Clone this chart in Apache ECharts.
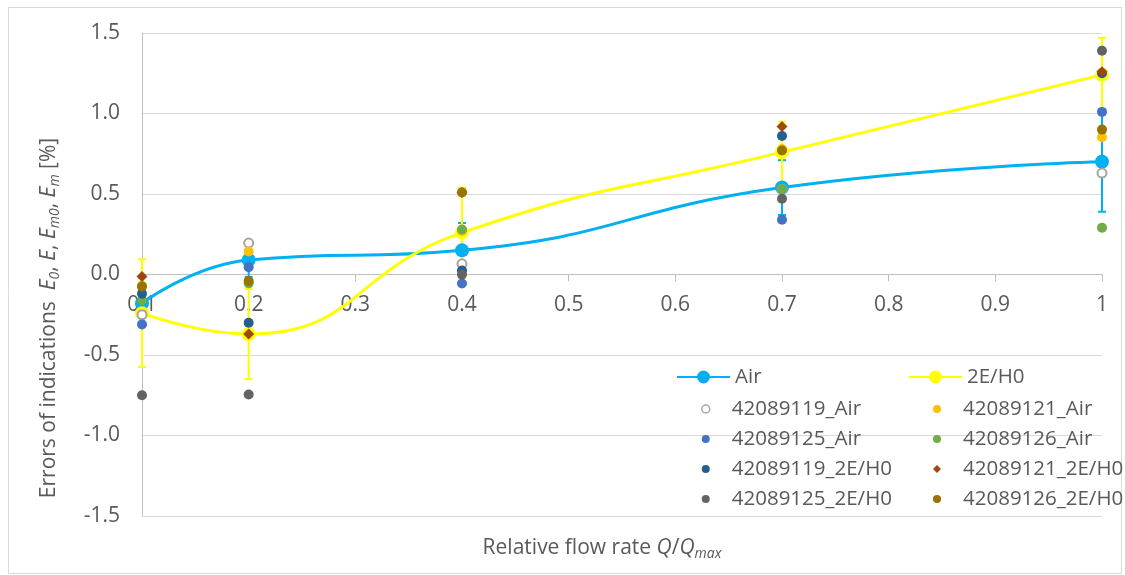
<!DOCTYPE html>
<html>
<head>
<meta charset="utf-8">
<script src="https://cdn.jsdelivr.net/npm/echarts@6/dist/echarts.min.js"></script>
<style>html,body{margin:0;padding:0;background:#fff}#c{width:1125px;height:575px}</style>
</head>
<body>
<div id="c"></div>
<script>
// ---- data ----
var xValues = [0.1, 0.2, 0.4, 0.7, 1.0];
var airMean = [-0.18, 0.09, 0.15, 0.54, 0.70];
var airErr = [0.08, 0.105, 0.17, 0.17, 0.31];
var h0Mean = [-0.24, -0.37, 0.26, 0.76, 1.24];
var h0Err = [0.335, 0.28, 0.28, 0.19, 0.23];

var m19Air = [-0.25, 0.195, 0.066, 0.53, 0.63];
var m21Air = [-0.07, 0.143, 0.27, 0.78, 0.853];
var m25Air = [-0.31, 0.045, -0.056, 0.34, 1.01];
var m26Air = [-0.16, -0.055, 0.28, 0.53, 0.29];
var m19H0 = [-0.12, -0.30, 0.025, 0.86, 1.25];
var m21H0 = [-0.012, -0.37, 0.51, 0.92, 1.26];
var m25H0 = [-0.75, -0.745, 0.0, 0.47, 1.39];
var m26H0 = [-0.075, -0.04, 0.51, 0.77, 0.90];

var yTicks = [-1.5, -1.0, -0.5, 0.0, 0.5, 1.0, 1.5];

var FONT = 'Open Sans';
var TXT = '#595959';
var GRID_TOP = 33, GRID_BOTTOM = 59, H = 575;

function pairs(vals) { return xValues.map(function (x, i) { return [x, vals[i]]; }); }
function triples(vals, errs) { return xValues.map(function (x, i) { return [x, vals[i], errs[i]]; }); }

function errRender(color) {
  return function (params, api) {
    var x = api.value(0), y = api.value(1), e = api.value(2);
    var t = api.coord([x, y + e]), b = api.coord([x, y - e]);
    var h = 4, st = { stroke: color, lineWidth: 2 };
    return { type: 'group', children: [
      { type: 'line', shape: { x1: t[0], y1: t[1], x2: b[0], y2: b[1] }, style: st },
      { type: 'line', shape: { x1: t[0] - h, y1: t[1], x2: t[0] + h, y2: t[1] }, style: st },
      { type: 'line', shape: { x1: b[0] - h, y1: b[1], x2: b[0] + h, y2: b[1] }, style: st }
    ]};
  };
}

function scatter(name, vals, color, symbol, size, hollow) {
  var s = {
    name: name, type: 'scatter', data: pairs(vals), z: 5,
    symbol: symbol || 'circle', symbolSize: size || 10,
    itemStyle: { color: color, opacity: 1 }
  };
  if (hollow) {
    s.itemStyle = { color: '#ffffff', borderColor: color, borderWidth: 2, opacity: 1 };
  }
  return s;
}

var chart = echarts.init(document.getElementById('c'), null, { renderer: 'canvas' });

var legendText = { fontFamily: FONT, fontSize: 20.5, color: TXT, lineHeight: 30 };
var legendTextPad = { fontFamily: FONT, fontSize: 20.5, color: TXT, lineHeight: 30, padding: [0, 0, 0, 17] };

// position of y = 0 inside the grid, to move the x axis there
var plotH = H - GRID_TOP - GRID_BOTTOM;
var zeroY = GRID_TOP + plotH * (yTicks[yTicks.length - 1] - 0) / (yTicks[yTicks.length - 1] - yTicks[0]);
var xAxisOffset = -(H - GRID_BOTTOM - zeroY);

var option = {
  animation: false,
  backgroundColor: '#ffffff',
  textStyle: { fontFamily: FONT },
  grid: { left: 142, right: 23, top: GRID_TOP, bottom: GRID_BOTTOM, containLabel: false },
  xAxis: {
    type: 'value', min: 0.1, max: 1.0, interval: 0.1, position: 'bottom', offset: xAxisOffset,
    axisLine: { show: true, onZero: false, lineStyle: { color: '#bfbfbf', width: 1 } },
    axisTick: { show: true, length: 7, lineStyle: { color: '#bfbfbf' } },
    axisLabel: {
      margin: 20, fontFamily: FONT, fontSize: 21, color: TXT,
      formatter: function (v) { return String(Math.round(v * 10) / 10); }
    },
    splitLine: { show: false }
  },
  yAxis: {
    type: 'value', min: yTicks[0], max: yTicks[yTicks.length - 1], interval: 0.5,
    axisLine: { show: true, onZero: false, lineStyle: { color: '#bfbfbf', width: 1 } },
    axisTick: { show: false },
    axisLabel: {
      margin: 22, fontFamily: FONT, fontSize: 21, color: TXT,
      formatter: function (v) { return v.toFixed(1); }
    },
    splitLine: { show: true, lineStyle: { color: '#d9d9d9', width: 1 } }
  },
  legend: [
    { data: ['Air'], left: 671, top: 357, orient: 'vertical', itemWidth: 53, itemHeight: 16, itemGap: 0, selectedMode: false, textStyle: legendText },
    { data: ['2E/H0'], left: 903, top: 357, orient: 'vertical', itemWidth: 53, itemHeight: 16, itemGap: 0, selectedMode: false, textStyle: legendText },
    { data: [
        { name: '42089119_Air', icon: 'circle', itemStyle: { color: '#ffffff', borderColor: '#A5A5A5', borderWidth: 1.5 } },
        { name: '42089125_Air', icon: 'circle' },
        { name: '42089119_2E/H0', icon: 'circle' },
        { name: '42089125_2E/H0', icon: 'circle' }
      ], left: 696, top: 389, orient: 'vertical', itemWidth: 8, itemHeight: 8, itemGap: 0, selectedMode: false, textStyle: legendTextPad },
    { data: [
        { name: '42089121_Air', icon: 'circle' },
        { name: '42089126_Air', icon: 'circle' },
        { name: '42089121_2E/H0', icon: 'diamond' },
        { name: '42089126_2E/H0', icon: 'circle' }
      ], left: 928, top: 389, orient: 'vertical', itemWidth: 8, itemHeight: 8, itemGap: 0, selectedMode: false, textStyle: legendTextPad }
  ],
  graphic: [
    { type: 'rect', silent: true, z: -10, shape: { x: 8.5, y: 7.5, width: 1113, height: 566 }, style: { fill: 'none', stroke: '#d9d9d9', lineWidth: 1 } },
    { type: 'text', silent: true, x: 49, y: 318, rotation: Math.PI / 2,
      style: {
        text: '{n|Errors of indications  }{i|E}{s|0}{n|, }{i|E}{n|, }{i|E}{s|m0}{n|, }{i|E}{s|m}{n| [%]}',
        align: 'center', verticalAlign: 'middle', fill: TXT,
        rich: {
          n: { fontFamily: FONT, fontSize: 21, fill: TXT },
          i: { fontFamily: FONT, fontSize: 21, fontStyle: 'italic', fill: TXT },
          s: { fontFamily: FONT, fontSize: 14, fontStyle: 'italic', fill: TXT, padding: [12, 0, 0, 0] }
        }
      }
    },
    { type: 'text', silent: true, x: 602, y: 548,
      style: {
        text: '{n|Relative flow rate }{i|Q}{n|/}{i|Q}{s|max}',
        align: 'center', verticalAlign: 'middle', fill: TXT,
        rich: {
          n: { fontFamily: FONT, fontSize: 21, fill: TXT },
          i: { fontFamily: FONT, fontSize: 21, fontStyle: 'italic', fill: TXT },
          s: { fontFamily: FONT, fontSize: 14, fontStyle: 'italic', fill: TXT, padding: [12, 0, 0, 0] }
        }
      }
    }
  ],
  series: [
    { name: 'airErr', type: 'custom', renderItem: errRender('#00B0F0'), data: triples(airMean, airErr), encode: { x: 0, y: 1 }, z: 1, silent: true },
    { name: 'h0Err', type: 'custom', renderItem: errRender('#FFFF00'), data: triples(h0Mean, h0Err), encode: { x: 0, y: 1 }, z: 1, silent: true },
    { name: 'Air', type: 'line', data: pairs(airMean), smooth: 0.5, z: 3,
      symbol: 'circle', symbolSize: 14, showSymbol: true,
      lineStyle: { color: '#00B0F0', width: 3 }, itemStyle: { color: '#00B0F0' } },
    { name: '2E/H0', type: 'line', data: pairs(h0Mean), smooth: 0.5, z: 3,
      symbol: 'circle', symbolSize: 14, showSymbol: true,
      lineStyle: { color: '#FFFF00', width: 3 }, itemStyle: { color: '#FFFF00' } },
    scatter('42089119_Air', m19Air, '#A5A5A5', 'circle', 9, true),
    scatter('42089121_Air', m21Air, '#FFC000'),
    scatter('42089125_Air', m25Air, '#4472C4'),
    scatter('42089126_Air', m26Air, '#70AD47'),
    scatter('42089119_2E/H0', m19H0, '#255E91'),
    scatter('42089121_2E/H0', m21H0, '#9E480E', 'diamond', 11),
    scatter('42089125_2E/H0', m25H0, '#636363'),
    scatter('42089126_2E/H0', m26H0, '#997300')
  ]
};
chart.setOption(option);
</script>
</body>
</html>
